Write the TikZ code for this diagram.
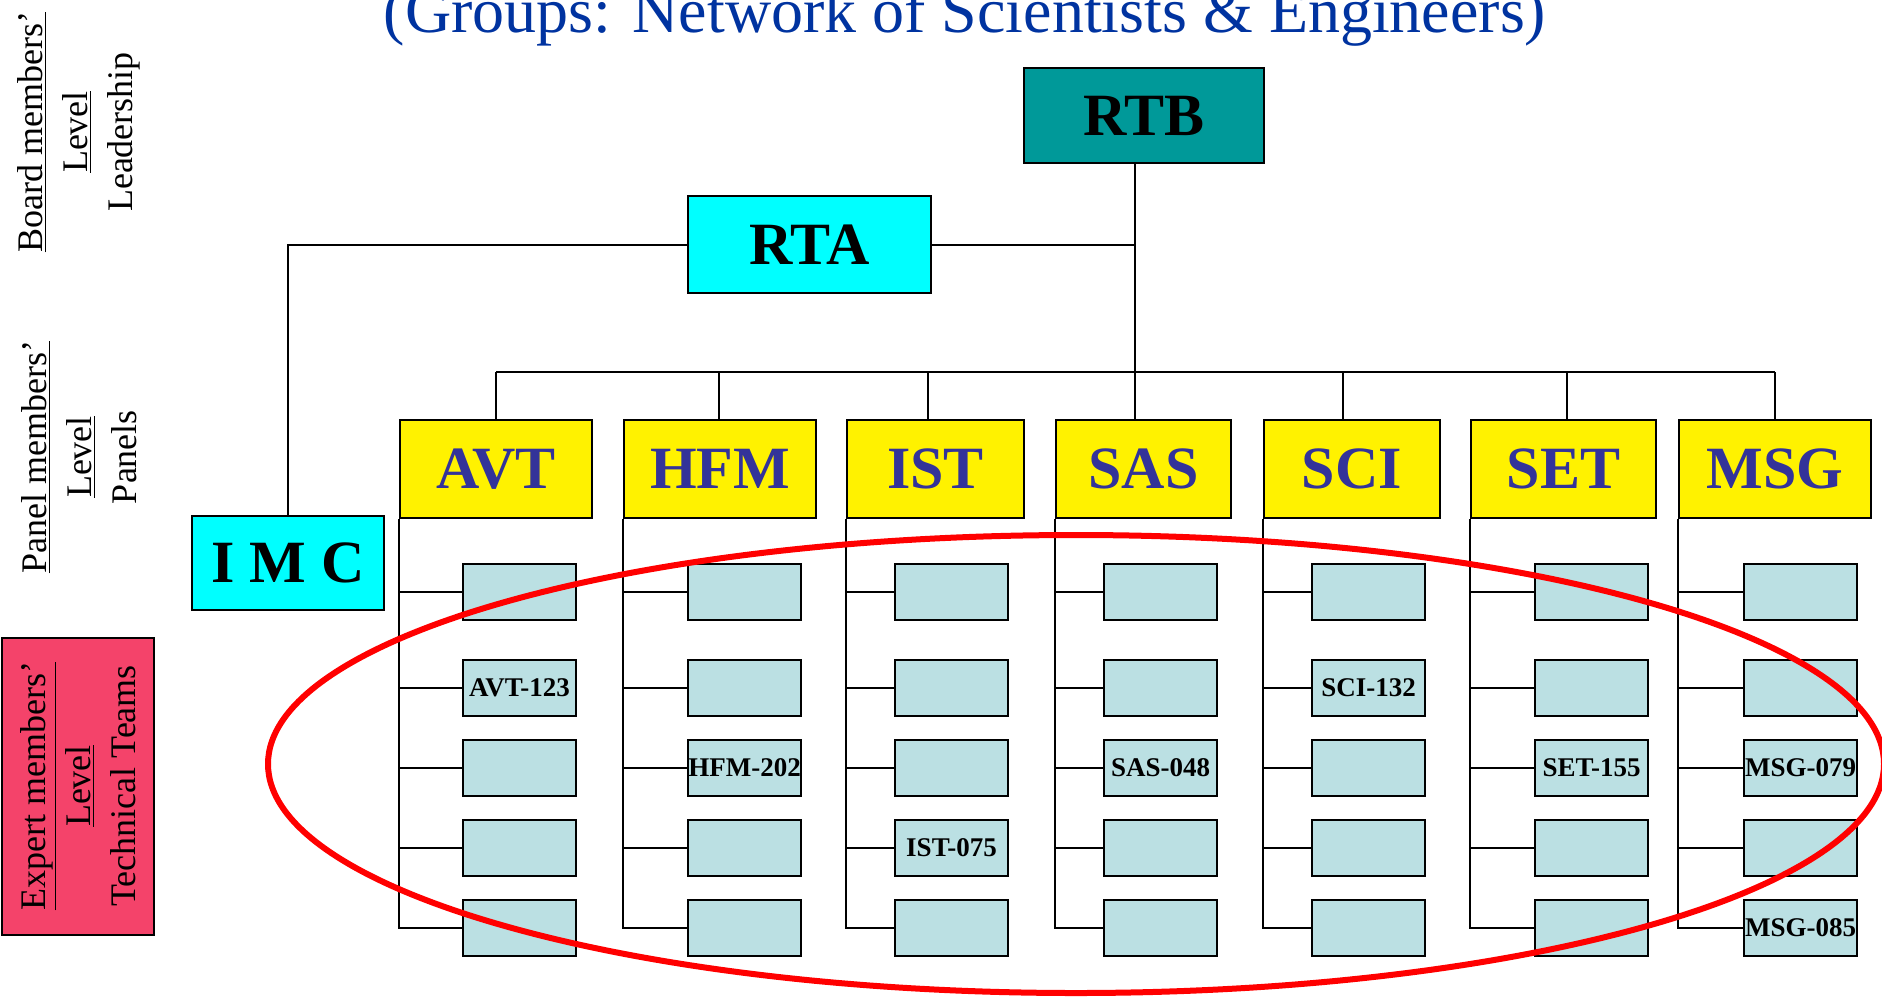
\documentclass[tikz,border=0pt]{standalone}
\usepackage{fontspec}
\setmainfont{Liberation Serif}
\usetikzlibrary{calc}
\definecolor{rtbteal}{RGB}{0,153,153}
\definecolor{rtacyan}{RGB}{0,255,255}
\definecolor{panelblue}{RGB}{51,51,153}
\definecolor{teamblue}{RGB}{187,224,227}
\definecolor{expertred}{RGB}{244,67,106}
\definecolor{titleblue}{RGB}{0,51,160}
\newcommand\setteam[3]{\expandafter\gdef\csname team#1#2\endcsname{#3}}
\setteam{AVT}{2}{AVT-123}
\setteam{HFM}{3}{HFM-202}
\setteam{IST}{4}{IST-075}
\setteam{SAS}{3}{SAS-048}
\setteam{SCI}{2}{SCI-132}
\setteam{SET}{3}{SET-155}
\setteam{MSG}{3}{MSG-079}
\setteam{MSG}{5}{MSG-085}

\begin{document}
\begin{tikzpicture}[x=.5pt,y=-.5pt,line width=1pt,
	box/.style={draw,line width=1.25pt,inner sep=0pt,font=\fontsize{30}{30}\selectfont\bfseries},
	panel/.style={box,fill=yellow,text=panelblue,minimum height=49pt},
	team/.style={draw,line width=1.25pt,fill=teamblue,inner sep=0pt,minimum width=56.5pt,minimum height=28pt,font=\fontsize{13.5}{14}\selectfont\bfseries},
	levels/.style={rotate=90,align=center,inner sep=0pt,font=\fontsize{18}{22.5}\selectfont}]
	\useasboundingbox (0,0) rectangle (1882,997);
	\node[anchor=base,text=titleblue,font=\fontsize{32}{36}\selectfont] (title) at (965,32) {(Groups: Network of Scientists \& Engineers)};
	\node[levels] (board) at (79,132) {\underline{Board members’}\\\underline{Level}\\Leadership};
	\node[levels] (panels) at (79,457) {\underline{Panel members’}\\\underline{Level}\\Panels};
	\node[levels,draw,fill=expertred,minimum width=148.5pt,minimum height=76pt] (expert) at (78,786) {\underline{Expert members’}\\\underline{Level}\\Technical Teams};
	\node[box,fill=rtbteal,minimum width=120pt,minimum height=47.5pt] (RTB) at (1144,115.5) {RTB};
	\node[box,fill=rtacyan,minimum width=121.5pt,minimum height=48.5pt] (RTA) at (809.5,244.5) {RTA};
	\node[box,fill=rtacyan,minimum width=96pt,minimum height=47pt] (IMC) at (288,563) {I M C};
	\path
	(1135,244.5) coordinate (hub)
	(1135,372) coordinate (spine)
	(496,372) coordinate (busL)
	(1775,372) coordinate (busR)
	;
	\draw (RTB.south -| spine) -- (spine);
	\draw (IMC.north) |- (RTA.west);
	\draw (RTA.east) -- (hub);
	\draw (busL) -- (busR);
	\foreach \p/\l/\w/\d/\o in {AVT/400/192/496/63,HFM/624/192/719/64,IST/847/177/928/48,SAS/1056/175/1135/48,SCI/1264/176/1343/48,SET/1471/185/1567/64,MSG/1679/192/1775/65}{
		\node[panel,minimum width=\w*.5pt] (\p) at ({\l+\w/2},469) {\p};
		\coordinate (\p-top) at (\d,372);
		\draw (\p-top) -- (\p-top |- \p.north);
		\foreach \y [count=\r] in {592,688,768,848,928}{
			\node[team] (\p-\r) at ({\l+\o+56.5},\y) {\ifcsname team\p\r\endcsname\csname team\p\r\endcsname\fi};
			\draw (\p.south west) |- (\p-\r.west);
		}
	}
	\draw[red,line width=3pt] (1076,764) ellipse [x radius=404pt,y radius=114.5pt];
\end{tikzpicture}
\end{document}
